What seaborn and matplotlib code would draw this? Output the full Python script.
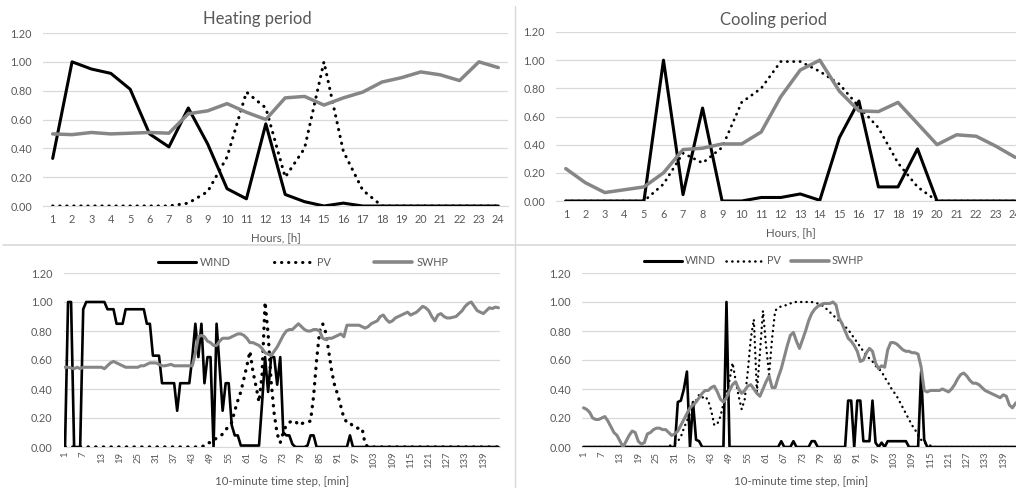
import matplotlib
matplotlib.use("Agg")
import matplotlib.pyplot as plt
from matplotlib.lines import Line2D
import seaborn as sns
import numpy as np

# ---- hourly data (24 h) ----
hours = list(range(1, 25))

heat_wind = [0.33, 1.00, 0.95, 0.92, 0.81, 0.50, 0.41, 0.68, 0.43, 0.12, 0.05, 0.57,
             0.08, 0.03, 0.00, 0.02, 0.00, 0.00, 0.00, 0.00, 0.00, 0.00, 0.00, 0.00]
heat_pv = [0.00, 0.00, 0.00, 0.00, 0.00, 0.00, 0.00, 0.02, 0.10, 0.34, 0.79, 0.68,
           0.20, 0.40, 1.00, 0.38, 0.11, 0.00, 0.00, 0.00, 0.00, 0.00, 0.00, 0.00]
heat_swhp = [0.50, 0.495, 0.51, 0.50, 0.505, 0.51, 0.505, 0.64, 0.66, 0.71, 0.65, 0.60,
             0.75, 0.76, 0.70, 0.75, 0.79, 0.86, 0.89, 0.93, 0.91, 0.87, 1.00, 0.96]

cool_wind = [0.00, 0.00, 0.00, 0.00, 0.00, 1.00, 0.045, 0.66, 0.00, 0.00, 0.025, 0.025,
             0.05, 0.005, 0.45, 0.71, 0.10, 0.10, 0.37, 0.00, 0.00, 0.00, 0.00, 0.00]
cool_pv = [0.00, 0.00, 0.00, 0.00, 0.00, 0.12, 0.34, 0.27, 0.38, 0.70, 0.80, 0.99,
           0.99, 0.92, 0.83, 0.67, 0.52, 0.27, 0.10, 0.00, 0.00, 0.00, 0.00, 0.00]
cool_swhp = [0.23, 0.13, 0.06, 0.08, 0.10, 0.20, 0.365, 0.375, 0.405, 0.405, 0.49, 0.74,
             0.93, 1.00, 0.78, 0.64, 0.635, 0.70, 0.55, 0.40, 0.47, 0.46, 0.39, 0.31]

# ---- 10-minute data (144 steps) ----
steps = list(range(1, 145))

heat10_wind = [
    0.00, 1.00, 1.00, 0.00, 0.00, 0.00, 0.95, 1.00, 1.00, 1.00, 1.00, 1.00,
    1.00, 1.00, 0.95, 0.95, 0.95, 0.85, 0.85, 0.85, 0.95, 0.95, 0.95, 0.95,
    0.95, 0.95, 0.95, 0.85, 0.85, 0.63, 0.63, 0.63, 0.44, 0.44, 0.44, 0.44,
    0.44, 0.25, 0.44, 0.44, 0.44, 0.44, 0.62, 0.85, 0.62, 0.85, 0.44, 0.62,
    0.62, 0.00, 0.85, 0.55, 0.25, 0.44, 0.44, 0.15, 0.08, 0.08, 0.01, 0.01,
    0.01, 0.01, 0.01, 0.01, 0.01, 0.30, 0.62, 0.38, 0.62, 0.62, 0.43, 0.62,
    0.10, 0.08, 0.08, 0.02, 0.00, 0.00, 0.00, 0.00, 0.01, 0.08, 0.08, 0.00,
    0.00, 0.00, 0.00, 0.00, 0.00, 0.00, 0.00, 0.00, 0.00, 0.00, 0.08, 0.00,
    0.00, 0.00, 0.00, 0.00, 0.00, 0.00, 0.00, 0.00, 0.00, 0.00, 0.00, 0.00,
    0.00, 0.00, 0.00, 0.00, 0.00, 0.00, 0.00, 0.00, 0.00, 0.00, 0.00, 0.00,
    0.00, 0.00, 0.00, 0.00, 0.00, 0.00, 0.00, 0.00, 0.00, 0.00, 0.00, 0.00,
    0.00, 0.00, 0.00, 0.00, 0.00, 0.00, 0.00, 0.00, 0.00, 0.00, 0.00, 0.00,
]
heat10_pv = [
    0.00, 0.00, 0.00, 0.00, 0.00, 0.00, 0.00, 0.00, 0.00, 0.00, 0.00, 0.00,
    0.00, 0.00, 0.00, 0.00, 0.00, 0.00, 0.00, 0.00, 0.00, 0.00, 0.00, 0.00,
    0.00, 0.00, 0.00, 0.00, 0.00, 0.00, 0.00, 0.00, 0.00, 0.00, 0.00, 0.00,
    0.00, 0.00, 0.00, 0.00, 0.00, 0.00, 0.00, 0.00, 0.00, 0.00, 0.01, 0.03,
    0.03, 0.05, 0.06, 0.07, 0.09, 0.12, 0.14, 0.17, 0.25, 0.32, 0.38, 0.47,
    0.56, 0.66, 0.52, 0.42, 0.31, 0.50, 1.00, 0.78, 0.45, 0.23, 0.09, 0.03,
    0.10, 0.15, 0.17, 0.18, 0.18, 0.15, 0.16, 0.17, 0.17, 0.18, 0.35, 0.60,
    0.80, 0.85, 0.79, 0.66, 0.52, 0.42, 0.36, 0.28, 0.20, 0.17, 0.17, 0.14,
    0.13, 0.13, 0.13, 0.02, 0.00, 0.00, 0.00, 0.00, 0.00, 0.00, 0.00, 0.00,
    0.00, 0.00, 0.00, 0.00, 0.00, 0.00, 0.00, 0.00, 0.00, 0.00, 0.00, 0.00,
    0.00, 0.00, 0.00, 0.00, 0.00, 0.00, 0.00, 0.00, 0.00, 0.00, 0.00, 0.00,
    0.00, 0.00, 0.00, 0.00, 0.00, 0.00, 0.00, 0.00, 0.00, 0.00, 0.00, 0.00,
]
heat10_swhp = [
    0.55, 0.55, 0.545, 0.54, 0.55, 0.54, 0.55, 0.55, 0.55, 0.55, 0.55, 0.55,
    0.55, 0.54, 0.56, 0.58, 0.59, 0.58, 0.57, 0.56, 0.55, 0.55, 0.55, 0.55,
    0.55, 0.56, 0.56, 0.57, 0.58, 0.58, 0.58, 0.57, 0.56, 0.56, 0.565, 0.57,
    0.56, 0.56, 0.56, 0.56, 0.56, 0.56, 0.56, 0.65, 0.76, 0.77, 0.76, 0.73,
    0.72, 0.70, 0.70, 0.73, 0.75, 0.75, 0.75, 0.76, 0.77, 0.78, 0.78, 0.77,
    0.75, 0.72, 0.72, 0.71, 0.70, 0.68, 0.65, 0.64, 0.63, 0.66, 0.69, 0.73,
    0.77, 0.80, 0.81, 0.81, 0.83, 0.85, 0.83, 0.81, 0.80, 0.80, 0.81, 0.81,
    0.80, 0.75, 0.74, 0.75, 0.75, 0.76, 0.77, 0.78, 0.76, 0.84, 0.84, 0.84,
    0.84, 0.84, 0.83, 0.82, 0.83, 0.85, 0.86, 0.87, 0.90, 0.91, 0.88, 0.86,
    0.87, 0.89, 0.90, 0.91, 0.92, 0.93, 0.91, 0.92, 0.93, 0.95, 0.97, 0.96,
    0.94, 0.90, 0.87, 0.91, 0.92, 0.90, 0.89, 0.89, 0.895, 0.90, 0.92, 0.94,
    0.97, 0.99, 1.00, 0.97, 0.94, 0.93, 0.92, 0.94, 0.96, 0.955, 0.965, 0.96,
]

cool10_wind = [
    0.00, 0.00, 0.00, 0.00, 0.00, 0.00, 0.00, 0.00, 0.00, 0.00, 0.00, 0.00,
    0.00, 0.00, 0.00, 0.00, 0.00, 0.00, 0.00, 0.00, 0.00, 0.00, 0.00, 0.00,
    0.00, 0.00, 0.00, 0.00, 0.00, 0.00, 0.00, 0.31, 0.32, 0.40, 0.52, 0.00,
    0.31, 0.05, 0.04, 0.00, 0.00, 0.00, 0.00, 0.00, 0.00, 0.00, 0.00, 1.00,
    0.00, 0.00, 0.00, 0.00, 0.00, 0.00, 0.00, 0.00, 0.00, 0.00, 0.00, 0.00,
    0.00, 0.00, 0.00, 0.00, 0.00, 0.04, 0.00, 0.00, 0.00, 0.04, 0.00, 0.00,
    0.00, 0.00, 0.00, 0.04, 0.04, 0.00, 0.00, 0.00, 0.00, 0.00, 0.00, 0.00,
    0.00, 0.00, 0.00, 0.32, 0.32, 0.00, 0.32, 0.32, 0.04, 0.04, 0.04, 0.32,
    0.03, 0.00, 0.03, 0.00, 0.04, 0.04, 0.04, 0.04, 0.04, 0.04, 0.04, 0.00,
    0.00, 0.00, 0.00, 0.52, 0.05, 0.00, 0.00, 0.00, 0.00, 0.00, 0.00, 0.00,
    0.00, 0.00, 0.00, 0.00, 0.00, 0.00, 0.00, 0.00, 0.00, 0.00, 0.00, 0.00,
    0.00, 0.00, 0.00, 0.00, 0.00, 0.00, 0.00, 0.00, 0.00, 0.00, 0.00, 0.00,
]
cool10_pv = [
    0.00, 0.00, 0.00, 0.00, 0.00, 0.00, 0.00, 0.00, 0.00, 0.00, 0.00, 0.00,
    0.00, 0.00, 0.00, 0.00, 0.00, 0.00, 0.00, 0.00, 0.00, 0.00, 0.00, 0.00,
    0.00, 0.00, 0.00, 0.00, 0.01, 0.01, 0.02, 0.04, 0.07, 0.13, 0.18, 0.23,
    0.27, 0.32, 0.36, 0.34, 0.35, 0.32, 0.25, 0.15, 0.16, 0.21, 0.30, 0.38,
    0.46, 0.58, 0.46, 0.35, 0.26, 0.33, 0.52, 0.75, 0.88, 0.38, 0.65, 0.94,
    0.70, 0.50, 0.75, 0.94, 0.96, 0.97, 0.975, 0.98, 0.99, 1.00, 1.00, 1.00,
    1.00, 1.00, 1.00, 1.00, 0.995, 0.99, 0.98, 0.97, 0.95, 0.93, 0.91, 0.89,
    0.87, 0.85, 0.83, 0.81, 0.78, 0.75, 0.72, 0.69, 0.66, 0.63, 0.61, 0.59,
    0.56, 0.54, 0.52, 0.48, 0.45, 0.41, 0.38, 0.35, 0.31, 0.27, 0.23, 0.19,
    0.15, 0.12, 0.08, 0.05, 0.03, 0.02, 0.01, 0.00, 0.00, 0.00, 0.00, 0.00,
    0.00, 0.00, 0.00, 0.00, 0.00, 0.00, 0.00, 0.00, 0.00, 0.00, 0.00, 0.00,
    0.00, 0.00, 0.00, 0.00, 0.00, 0.00, 0.00, 0.00, 0.00, 0.00, 0.00, 0.00,
]
cool10_swhp = [
    0.27, 0.26, 0.24, 0.20, 0.19, 0.19, 0.20, 0.21, 0.18, 0.14, 0.10, 0.08,
    0.04, 0.00, 0.04, 0.08, 0.11, 0.10, 0.04, 0.02, 0.03, 0.09, 0.10, 0.12,
    0.13, 0.13, 0.12, 0.12, 0.10, 0.08, 0.09, 0.11, 0.15, 0.19, 0.23, 0.27,
    0.29, 0.31, 0.34, 0.37, 0.39, 0.39, 0.41, 0.42, 0.38, 0.33, 0.31, 0.34,
    0.39, 0.43, 0.45, 0.40, 0.37, 0.39, 0.42, 0.43, 0.40, 0.37, 0.35, 0.40,
    0.45, 0.49, 0.41, 0.41, 0.48, 0.54, 0.62, 0.70, 0.77, 0.79, 0.73, 0.68,
    0.74, 0.80, 0.87, 0.92, 0.95, 0.97, 0.98, 0.99, 0.99, 0.99, 1.00, 0.98,
    0.89, 0.85, 0.80, 0.75, 0.73, 0.70, 0.66, 0.59, 0.60, 0.65, 0.68, 0.66,
    0.58, 0.54, 0.56, 0.55, 0.67, 0.72, 0.72, 0.71, 0.69, 0.67, 0.66, 0.66,
    0.65, 0.65, 0.64, 0.55, 0.39, 0.38, 0.39, 0.39, 0.39, 0.39, 0.40, 0.39,
    0.38, 0.40, 0.43, 0.47, 0.50, 0.51, 0.49, 0.46, 0.44, 0.44, 0.43, 0.41,
    0.39, 0.38, 0.37, 0.36, 0.35, 0.34, 0.36, 0.35, 0.29, 0.27, 0.30, 0.32,
]

sns.set_style("white")
plt.rcParams["font.family"] = ["Lato", "DejaVu Sans"]

TXT = "#595959"
GRID = "#d9d9d9"
GREY = "#868686"
DOTS = (0, (0.1, 2.2))
W, H = 1016, 488

fig = plt.figure(figsize=(W / 100, H / 100), dpi=100)


def px_axes(left, top, right, bottom):
    return fig.add_axes([left / W, 1 - bottom / H, (right - left) / W, (bottom - top) / H])


def draw(ax, x, wind, pv, swhp, lw_w, lw_pv, lw_s):
    sns.lineplot(x=x, y=wind, ax=ax, color="black", lw=lw_w, zorder=3)
    sns.lineplot(x=x, y=pv, ax=ax, color="black", lw=lw_pv, zorder=4,
                 linestyle=DOTS, dash_capstyle="round")
    sns.lineplot(x=x, y=swhp, ax=ax, color=GREY, lw=lw_s, zorder=5)


def style(ax, n, ticks, rot, xpad, xlabel, lab_y):
    ax.set_xlim(0.5, n + 0.5)
    ax.set_ylim(0, 1.2)
    yt = np.arange(0, 1.21, 0.2)
    ax.set_yticks(yt)
    ax.set_yticklabels([f"{v:.2f}" for v in yt])
    ax.set_xticks(ticks)
    ax.set_xticklabels([str(t) for t in ticks], rotation=rot)
    ax.grid(axis="y", color=GRID, lw=0.9)
    ax.grid(axis="x", visible=False)
    ax.set_axisbelow(True)
    for side, sp in ax.spines.items():
        sp.set_visible(side == "bottom")
        sp.set_color(GRID)
    ax.tick_params(length=0, labelsize=7.8, colors=TXT)
    ax.tick_params(axis="y", pad=8)
    ax.tick_params(axis="x", pad=xpad, labelsize=7.8 if rot == 0 else 6.8)
    ax.set_xlabel(xlabel, fontsize=8.3, color=TXT)
    ax.xaxis.set_label_coords(0.5, lab_y)
    ax.set_ylabel("")


# top left: heating, hourly
ax1 = px_axes(43, 33, 508, 206)
draw(ax1, hours, heat_wind, heat_pv, heat_swhp, 2.2, 2.2, 2.5)
style(ax1, 24, hours, 0, 6, "Hours, [h]", -0.15)
ax1.set_title("Heating period", fontsize=12, color=TXT, x=0.46, y=1.081, va="center", pad=0)

# top right: cooling, hourly (cut at the right edge as in the source)
ax2 = px_axes(556, 32, 1025, 201)
draw(ax2, hours, cool_wind, cool_pv, cool_swhp, 2.2, 2.0, 2.5)
style(ax2, 24, hours, 0, 6, "Hours, [h]", -0.154)
ax2.set_title("Cooling period", fontsize=12, color=TXT, x=0.463, y=1.071, va="center", pad=0)

tick10 = list(range(1, 144, 6))

# bottom left: heating, 10-minute
ax3 = px_axes(63.5, 273, 500, 447)
draw(ax3, steps, heat10_wind, heat10_pv, heat10_swhp, 1.9, 2.4, 2.2)
style(ax3, 144, tick10, 90, 3.5, "10-minute time step, [min]", -0.167)

# bottom right: cooling, 10-minute
ax4 = px_axes(582, 273, 1020, 447)
draw(ax4, steps, cool10_wind, cool10_pv, cool10_swhp, 1.9, 1.7, 2.2)
style(ax4, 144, tick10, 90, 3.5, "10-minute time step, [min]", -0.167)


def handles(lw_pv):
    return [Line2D([], [], color="black", lw=2.2),
            Line2D([], [], color="black", lw=lw_pv, linestyle=DOTS, dash_capstyle="round"),
            Line2D([], [], color=GREY, lw=2.6)]


labels = ["WIND", "PV", "SWHP"]
fig.legend(handles(2.2), labels, loc="center", bbox_to_anchor=(303 / W, 1 - 262 / H),
           ncol=3, frameon=False, fontsize=7.8, labelcolor=TXT, handlelength=3.5,
           columnspacing=4.0, handletextpad=0.4)
fig.legend(handles(1.8), labels, loc="center", bbox_to_anchor=(754 / W, 1 - 261 / H),
           ncol=3, frameon=False, fontsize=7.8, labelcolor=TXT, handlelength=3.5,
           columnspacing=0.9, handletextpad=0.3)

# panel separators
fig.add_artist(Line2D([3 / W, 1], [1 - 245 / H, 1 - 245 / H], color=GRID, lw=1.2))
fig.add_artist(Line2D([515 / W, 515 / W], [0, 1 - 6 / H], color=GRID, lw=1.0))

fig.savefig("out.png", dpi=100)
